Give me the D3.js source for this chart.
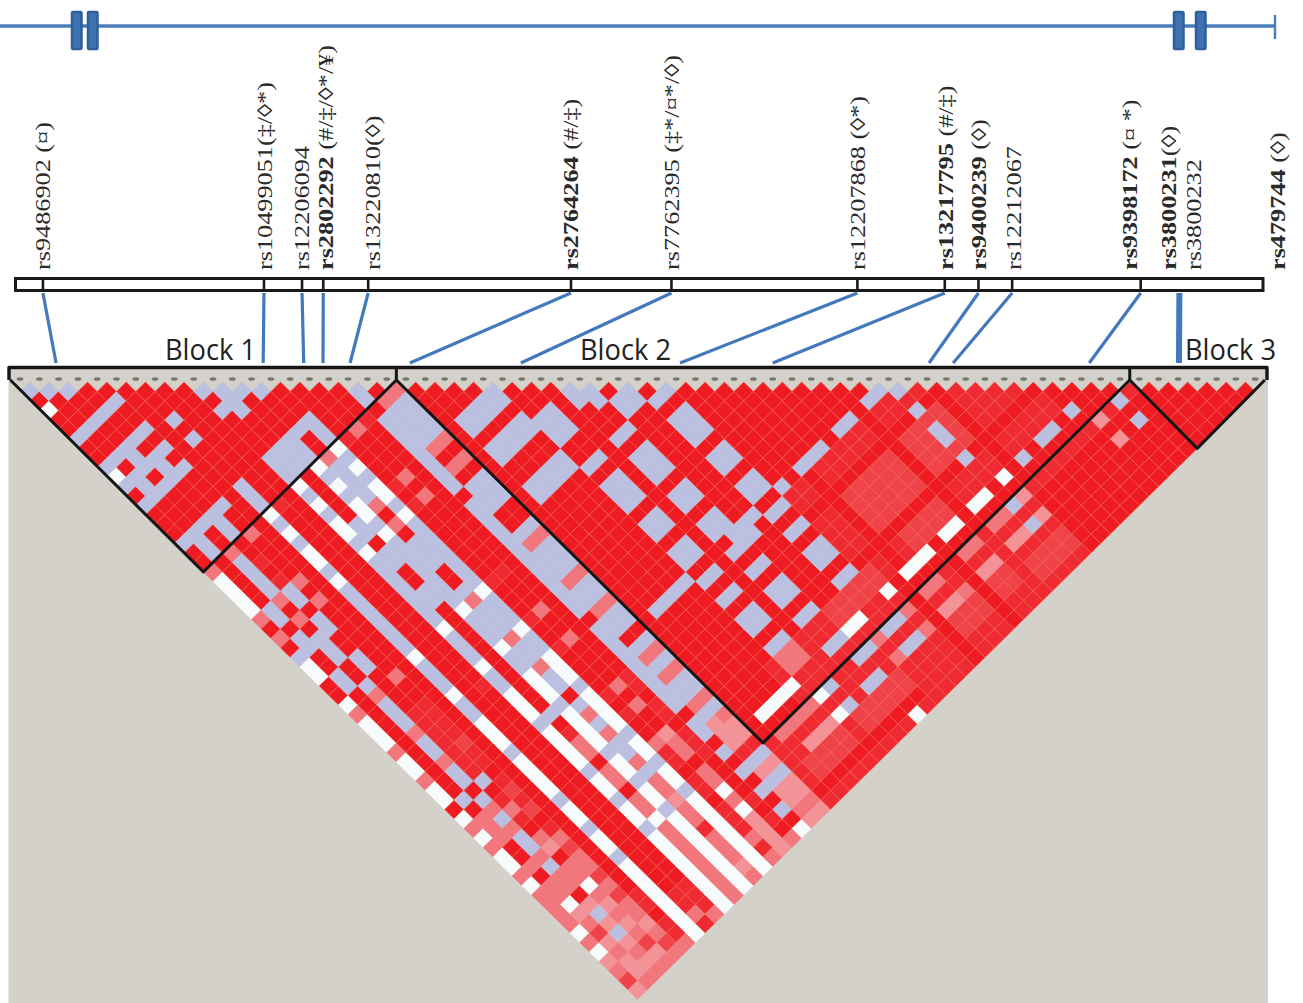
<!DOCTYPE html>
<html lang="en">
  <head>
    <meta charset="utf-8">
    <title>LD blocks</title>
    <style>
      body { margin: 0; background: white; }
    </style>
  </head>
  <body>
    <svg id="chart" width="1303" height="1003"></svg>
  </body>
  <script src="https://d3js.org/d3.v7.min.js"></script>
  <script>
    // codes: r deep red, m mid red, n light red, p pink, q pale pink, w white, l lavender

    // marker i against markers i+1..19
    let block1Rows = [
      "lrwrrlrrlwlrlrrrlrr",
      "lrrrlrrlrlllrrrlll",
      "lrrlrrlllrlrrrlrr",
      "rrlrrlrlllrrrlll",
      "rlrrlrlrlrrrlrr",
      "rrrrrrrrrrrrrr",
      "rrrlrlrrrrlll",
      "rrrrrrrrrrrr",
      "rrrrrrrrrrr",
      "lrlrrrrlll",
      "lllrrrlll",
      "lrrrrlll",
      "lrrrlrr",
      "rrrlll",
      "rrrrr",
      "rrrr",
      "rrr",
      "ll",
      "r"
    ]

    // marker i against markers 20..64
    let crossRows = [
      "pwwwwprprlwwrrwpwwwpwwpwwrwpwpwwpwppppwpwqpnq",
      "rrrrrllrllrrllrrrrrrrrrrrlrppprrprppwqpnqpqqp",
      "pllllprprlllrrlplllpllpllrlplpllplpprqlqlqpqp",
      "rrmrmllrllrrllrrrrmmmmmmmlrmpmrpqrppwpqpqpnqp",
      "prrrrprprrrrrrrprrmmmmnmmrmnmnrmpnppnpnppqpnp",
      "rrrrrrrrrrrrrrrrrrrrrrrrrrrrrrrrrrrrrrrmmrmmp",
      "wlwlwwlwlllllllwlllwllwwwlwwwwlwwlwwlwwwwwwww",
      "mrrrrrrrrrrrrrrrrrrrrrrrrrrrrrrrrrrrrrrrrmmpm",
      "rrrrrrrrrrrrrrrrrrrrmrrrrrrrrrrrrrrrrrrrrmmmp",
      "wlwlwwlwlllllllwlllwllwwwlwwwwlwwlwwlwwwwwwww",
      "rrrrrllrllrrllrrrrrrrrrrrlrmpprpprppwpppppppp",
      "wlwlwwlwlllllllwlllwllwwwlwwwwlwwlwwlwwwwwwww",
      "pllllprprlllrrlplllpllpllrlplpllplppqppmpppqp",
      "wlwlwwlwlllllllwlllwllwwwlwwwwlwwlwwlwwwwwwww",
      "mrrrrmrmrrrrrrrmrrrmrrmrrrrmrmrrpmmrmmrmmmpmp",
      "prrrrprprrrrrrrmrrrprrprrrrprprrqpprppwpwqqqq",
      "mrrrrrrrrrrrrrrrrrrrrrrrrrrmmrmmrmmmrrrrmrmrp",
      "rllllllllrllllllllllllrlllllllllrllrlrlrlrlrw",
      "pllllprprlllrrlplllpllpllrlplpllplqqqmlqlqqpq",
      "pllllprprlllrrlplllpllpllrlplpllplpqqmlqlqqpq"
    ]

    // remaining markers, [first i, last i, first j, last j]
    let midRedBlocks = [[24, 34, 54, 57], [34, 52, 46, 55], [20, 57, 58, 64]]
    let lightRedBlocks = [[36, 41, 49, 52], [43, 46, 49, 52], [38, 41, 54, 55], [30, 34, 54, 55], [36, 41, 61, 62],
      [21, 24, 61, 63], [26, 30, 61, 63], [43, 46, 62, 63]]
    let deepRedBlocks = [[34, 52, 48, 48], [34, 52, 53, 53], [36, 36, 46, 55], [42, 42, 46, 55], [47, 47, 46, 55],
      [35, 35, 58, 64], [47, 57, 59, 64], [20, 30, 63, 63], [39, 39, 58, 64]]
    let pinkBlocks = [[25, 26, 54, 55], [21, 24, 58, 58], [43, 44, 58, 58], [40, 41, 58, 58], [36, 37, 58, 58],
      [38, 38, 60, 60], [31, 31, 58, 58], [31, 31, 60, 60], [34, 34, 58, 58], [34, 34, 60, 60]]
    let paleBlocks = [[54, 54, 58, 58], [54, 54, 60, 60], [46, 46, 58, 58], [46, 46, 60, 60], [43, 44, 60, 60],
      [40, 41, 60, 60], [36, 37, 60, 60], [22, 24, 60, 60]]
    let lavenderBlocks = [[21, 24, 25, 26], [21, 24, 28, 29], [25, 26, 29, 31], [21, 24, 32, 33], [25, 26, 34, 34],
      [28, 28, 29, 30], [29, 29, 30, 31], [30, 30, 32, 33], [31, 31, 32, 33], [32, 33, 34, 34], [28, 29, 34, 34],
      [28, 29, 36, 38], [25, 26, 36, 38], [32, 33, 36, 38], [32, 33, 40, 41], [36, 38, 45, 45], [32, 33, 43, 44],
      [34, 34, 45, 45], [32, 33, 46, 46], [28, 29, 40, 41], [25, 26, 40, 41], [28, 29, 43, 44], [29, 31, 45, 45],
      [28, 30, 46, 46], [25, 26, 43, 44], [25, 26, 46, 46], [21, 24, 45, 45], [25, 26, 48, 48], [28, 29, 48, 48],
      [32, 33, 48, 48], [32, 33, 50, 51], [28, 29, 50, 51], [25, 26, 50, 51], [28, 29, 53, 53], [25, 26, 53, 53],
      [32, 33, 53, 53], [28, 29, 56, 56], [40, 41, 45, 45], [43, 44, 45, 45], [45, 45, 46, 46], [45, 45, 48, 48],
      [45, 45, 50, 51], [45, 45, 53, 53], [48, 48, 56, 56], [50, 51, 56, 56], [53, 53, 56, 56], [56, 56, 58, 58],
      [56, 56, 60, 60], [32, 33, 58, 58], [32, 33, 60, 60], [29, 30, 58, 58], [28, 29, 60, 60], [26, 26, 58, 58],
      [26, 26, 60, 60], [45, 45, 58, 58], [45, 45, 60, 60]]
    let whiteBlocks = [[21, 24, 56, 56], [30, 31, 56, 56], [34, 34, 56, 56], [36, 38, 56, 56], [40, 41, 56, 56],
      [43, 44, 56, 56], [46, 46, 56, 56], [25, 25, 58, 58], [25, 25, 60, 60], [29, 29, 64, 64]]

    let markerCount = 65
    let haplotypeBlocks = [[0, 19], [20, 57], [58, 64]]
    let blockNames = ["Block 1", "Block 2", "Block 3"]

    let snpNames = ["rs9486902", "rs10499051", "rs12206094", "rs2802292", "rs13220810", "rs2764264", "rs7762395",
      "rs12207868", "rs13217795", "rs9400239", "rs12212067", "rs9398172", "rs3800231", "rs3800232", "rs479744"]
    let snpNotes = [" (¤)", "(‡/◊*)", "", " (#/‡/◊*/¥)", "(◊)", " (#/‡)", " (‡*/¤*/◊)",
      " (◊*)", " (#/‡)", " (◊)", "", " (¤ *)", "(◊)", "", " (◊)"]
    let snpBold = [0, 0, 0, 1, 0, 1, 0, 0, 1, 1, 0, 1, 1, 0, 1]
    let snpBarPos = [2.24, 19.95, 23.0, 24.7, 28.3, 44.55, 52.6, 67.5, 74.5, 77.2, 79.9, 90.2, 93.3]
    let snpLdMarker = [1.87, 12.6, 14.7, 15.7, 17.1, 20.2, 25.95, 34.2, 39.0, 47.1, 48.35, 55.4, 60.05]
    let labelPos = [50, 272, 309, 333, 380, 578, 679, 865, 953, 986, 1021, 1137, 1176, 1201, 1285]

    let exonStarts = [72, 88, 1174, 1196]

    let fills = { r: "#ee1c24", m: "#ef2c32", n: "#f04349", p: "#f1777b", q: "#f39397", w: "#f8fbfb", l: "#bcc0e0" }

    let svg = d3.select("#chart")

    // gene model
    let gene = svg.append("g")
    gene.append("line").attr("x1", 0).attr("x2", 1275).attr("y1", 26).attr("y2", 26)
      .style("stroke", "#4a7ebb").style("stroke-width", 3.4)
    gene.append("line").attr("x1", 1275).attr("x2", 1275).attr("y1", 15).attr("y2", 39)
      .style("stroke", "#4a7ebb").style("stroke-width", 2.4)
    gene.selectAll("rect").data(exonStarts).enter().append("rect")
      .attr("x", d => d).attr("y", 12).attr("width", 9.5).attr("height", 37).attr("rx", 1)
      .style("fill", "#3f72b0").style("stroke", "#2f5f9c").style("stroke-width", 2.5)

    // snp bar
    let barX = d3.scaleLinear().domain([0, 100]).range([15, 1263])
    svg.append("rect").attr("x", 15.5).attr("y", 278.5).attr("width", 1247.5).attr("height", 12)
      .style("fill", "white").style("stroke", "#1a1a1a").style("stroke-width", 3)
    svg.selectAll(".barTick").data(snpBarPos.slice(0, 12)).enter().append("line")
      .attr("class", "barTick")
      .attr("x1", d => barX(d)).attr("x2", d => barX(d)).attr("y1", 278).attr("y2", 291)
      .style("stroke", "#1a1a1a").style("stroke-width", 2.6)

    // snp names, rotated and stretched along the text
    let labels = svg.selectAll(".snp").data(snpNames).enter().append("text")
      .attr("class", "snp")
      .attr("transform", (d, i) => "translate(" + labelPos[i] + ",270) rotate(-90) scale(1.25,1)")
      .style("font-family", "'Liberation Serif', serif")
      .style("font-size", "21px")
      .style("fill", "#2a2a2a")
    labels.append("tspan").text(d => d).style("font-weight", (d, i) => snpBold[i] ? "bold" : "normal")
    labels.append("tspan").text((d, i) => snpNotes[i])

    // the plot
    let x = d3.scaleLinear().domain([0, markerCount - 1]).range([20, 1255.2])
    let y = d3.scaleLinear().domain([1, markerCount - 1]).range([391.4, 989.9])
    let halfW = (x(1) - x(0)) / 2
    let halfH = y(2) - y(1)

    svg.append("rect").attr("x", 8.5).attr("y", 367).attr("width", 1259.5).attr("height", 636)
      .style("fill", "#d3d1ca")

    // fill the pair table
    let table = {}
    function paint(list, code) {
      list.forEach(b => {
        for (let i = b[0]; i <= b[1]; i++) {
          for (let j = Math.max(b[2], i + 1); j <= b[3]; j++) table[i + "_" + j] = code
        }
      })
    }
    paint(midRedBlocks, "m")
    paint(lightRedBlocks, "n")
    paint(deepRedBlocks, "r")
    paint(pinkBlocks, "p")
    paint(paleBlocks, "q")
    paint(lavenderBlocks, "l")
    paint(whiteBlocks, "w")
    block1Rows.forEach((row, i) => row.split("").forEach((c, k) => { table[i + "_" + (i + 1 + k)] = c }))
    crossRows.forEach((row, i) => row.split("").forEach((c, k) => { table[i + "_" + (20 + k)] = c }))

    let cells = []
    for (let i = 0; i < markerCount; i++) {
      for (let j = i + 1; j < markerCount; j++) {
        cells.push({ i: i, j: j, code: table[i + "_" + j] || "r" })
      }
    }

    svg.append("defs").append("filter").attr("id", "soft")
      .append("feGaussianBlur").attr("stdDeviation", 0.6)

    let plot = svg.append("g").attr("filter", "url(#soft)")
    plot.selectAll("polygon").data(cells).enter().append("polygon")
      .attr("points", d => {
        let cx = x((d.i + d.j) / 2), cy = y(d.j - d.i)
        return [[cx - halfW, cy], [cx, cy - halfH], [cx + halfW, cy], [cx, cy + halfH]].join(" ")
      })
      .style("fill", d => fills[d.code])
      .style("stroke", d => (d.code == "r" || d.code == "m" || d.code == "n") ? "#f4694f" : fills[d.code])
      .style("stroke-width", 0.5)

    // marker ticks along the top
    plot.selectAll(".tick").data(d3.range(markerCount)).enter().append("ellipse")
      .attr("class", "tick")
      .attr("cx", d => x(d)).attr("cy", 379).attr("rx", 3.4).attr("ry", 1.8)
      .style("fill", "#77776f")

    // block outlines
    let outline = svg.append("g").style("fill", "none").style("stroke", "#161616").style("stroke-width", 3)
      .style("stroke-linejoin", "round")
    outline.append("path").attr("d", "M9,380V367.5H1267V380").style("stroke-width", 3.4)
    outline.selectAll(".block").data(haplotypeBlocks).enter().append("path")
      .attr("class", "block")
      .attr("d", d => {
        let left = x(d[0]) - halfW, right = x(d[1]) + halfW
        let cx = x((d[0] + d[1]) / 2), cy = y(d[1] - d[0]) + halfH
        return "M" + left + ",380L" + cx + "," + cy + "L" + right + ",380"
      })
    outline.selectAll(".divider").data([x(20) - halfW, x(58) - halfW]).enter().append("line")
      .attr("class", "divider")
      .attr("x1", d => d).attr("x2", d => d).attr("y1", 367).attr("y2", 380)

    // lines from the bar to the plot
    svg.selectAll(".link").data(snpBarPos).enter().append("line")
      .attr("class", "link")
      .attr("x1", d => barX(d)).attr("y1", 293)
      .attr("x2", (d, i) => x(snpLdMarker[i])).attr("y2", 363)
      .style("stroke", "#4478bc")
      .style("stroke-width", (d, i) => i == 12 ? 6 : 3.2)

    svg.selectAll(".blockName").data(blockNames).enter().append("text")
      .attr("class", "blockName")
      .attr("x", (d, i) => [165, 580, 1185][i])
      .attr("y", 360)
      .text(d => d)
      .style("font-family", "'Open Sans', sans-serif")
      .style("font-size", "29px")
      .attr("textLength", 91)
      .attr("lengthAdjust", "spacingAndGlyphs")
      .style("fill", "#222")
  </script>
</html>
